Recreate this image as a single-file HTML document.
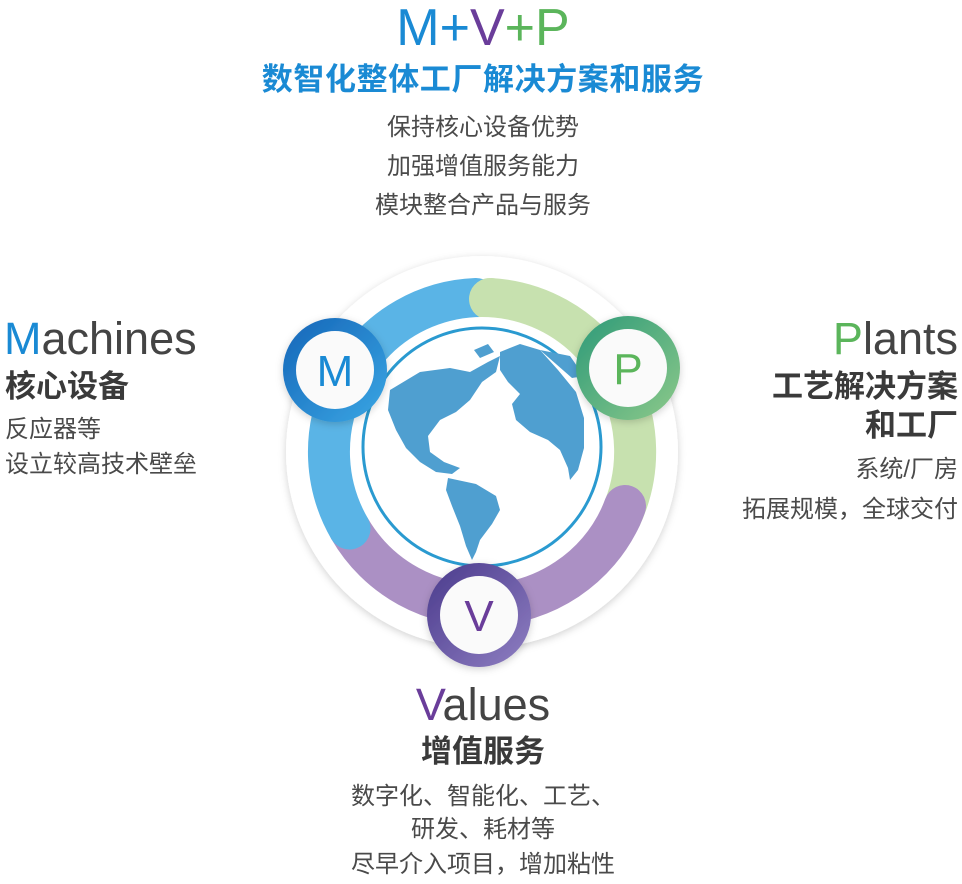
<!DOCTYPE html>
<html><head><meta charset="utf-8"><style>
body{margin:0;width:962px;height:884px;background:#fff;position:relative;overflow:hidden;font-family:"Liberation Sans","Noto Sans CJK SC",sans-serif;color:#444}
.t{position:absolute;white-space:nowrap;line-height:1}
.c{left:0;width:966px;text-align:center}
.r{right:4px;text-align:right}
.g{font-size:24px;color:#4a4a4a}
.b{font-weight:bold;color:#3a3a3a}
.en{font-size:45px;color:#444}
</style></head><body>
<div class="t c" style="top:2px;font-size:52px"><span style="color:#1a8ad4">M</span><span style="color:#1a8ad4">+</span><span style="color:#6a3d9a">V</span><span style="color:#5bb55b">+P</span></div>
<div class="t c" style="top:64px;font-size:31px;letter-spacing:0.6px;font-weight:bold;color:#1a8ad4">数智化整体工厂解决方案和服务</div>
<div class="t c g" style="top:116px">保持核心设备优势</div>
<div class="t c g" style="top:155px">加强增值服务能力</div>
<div class="t c g" style="top:194px">模块整合产品与服务</div>

<div class="t en" style="left:4px;top:316px"><span style="color:#1a8ad4">M</span>achines</div>
<div class="t b" style="left:5px;top:371px;font-size:31px">核心设备</div>
<div class="t g" style="left:5px;top:418px">反应器等</div>
<div class="t g" style="left:5px;top:453px">设立较高技术壁垒</div>

<div class="t en r" style="top:316px"><span style="color:#5bb55b">P</span>lants</div>
<div class="t b r" style="top:371px;font-size:31px">工艺解决方案</div>
<div class="t b r" style="top:410px;font-size:31px">和工厂</div>
<div class="t g r" style="top:458px">系统/厂房</div>
<div class="t g r" style="top:498px">拓展规模，全球交付</div>

<div class="t c en" style="top:682px"><span style="color:#6a3d9a">V</span>alues</div>
<div class="t c b" style="top:736px;font-size:31px">增值服务</div>
<div class="t c g" style="top:785px">数字化、智能化、工艺、</div>
<div class="t c g" style="top:818px">研发、耗材等</div>
<div class="t c g" style="top:853px">尽早介入项目，增加粘性</div>

<svg style="position:absolute;left:0;top:0" width="962" height="884">
<defs>
<filter id="sh" x="-20%" y="-20%" width="140%" height="140%"><feDropShadow dx="0" dy="2" stdDeviation="4" flood-color="#000" flood-opacity="0.18"/></filter>
<linearGradient id="gm" x1="0" y1="0" x2="1" y2="1"><stop offset="0" stop-color="#1565b8"/><stop offset="1" stop-color="#3aa7e4"/></linearGradient>
<linearGradient id="gp" x1="0" y1="0" x2="1" y2="1"><stop offset="0" stop-color="#2e9a78"/><stop offset="1" stop-color="#8cc98a"/></linearGradient>
<linearGradient id="gv" x1="0" y1="0" x2="1" y2="1"><stop offset="0" stop-color="#4a3a8c"/><stop offset="1" stop-color="#8f7fc2"/></linearGradient>
</defs>
<circle cx="482" cy="452" r="196" fill="#fff" filter="url(#sh)"/>
<path d="M 620.7 516.7 A 153 153 0 0 1 349.5 528.5" fill="none" stroke="#ab90c4" stroke-width="42" stroke-linecap="round"/>
<path d="M 349.5 528.5 A 153 153 0 0 1 476 299" fill="none" stroke="#5ab4e6" stroke-width="42" stroke-linecap="round"/>
<path d="M 490 299 A 153 153 0 0 1 620.7 516.7" fill="none" stroke="#c7e1af" stroke-width="42" stroke-linecap="butt"/>
<path d="M 490 299 A 153 153 0 0 1 492 299.3" fill="none" stroke="#c7e1af" stroke-width="42" stroke-linecap="round"/>
<path d="M 625 506 A 153 153 0 0 1 620.7 516.7" fill="none" stroke="#ab90c4" stroke-width="42" stroke-linecap="round"/>
<circle cx="482" cy="447" r="130" fill="#fff"/>
<circle cx="482" cy="447" r="119" fill="#fff" stroke="#2a9ad0" stroke-width="3"/>
<g fill="#4f9fd0">
<path d="M390 390 L420 372 L450 368 L470 372 L488 362 L500 356 L496 372 L482 382 L470 400 L456 412 L440 420 L428 436 L430 452 L444 462 L460 468 L452 474 L436 472 L420 462 L406 448 L396 430 L388 410 Z"/>
<path d="M448 478 L476 484 L496 496 L500 510 L492 524 L480 540 L476 552 L472 560 L466 546 L460 526 L452 506 L446 490 Z"/>
<path d="M500 352 L520 344 L540 350 L558 370 L576 392 L584 418 L584 448 L578 470 L570 480 L568 468 L560 450 L548 440 L530 432 L516 420 L512 404 L520 394 L508 382 L500 370 Z"/>
<path d="M540 350 L570 356 L584 376 L572 378 L556 364 Z"/>
<path d="M474 350 L488 344 L494 352 L480 358 Z"/>
</g>
<circle cx="335" cy="370" r="52" fill="url(#gm)" filter="url(#sh)"/>
<circle cx="335" cy="370" r="39" fill="#fafafa"/>
<text x="335" y="386" text-anchor="middle" font-family="Liberation Sans" font-size="44" fill="#1a8ad4">M</text>
<circle cx="628" cy="368" r="52" fill="url(#gp)" filter="url(#sh)"/>
<circle cx="628" cy="368" r="39" fill="#fafafa"/>
<text x="628" y="384" text-anchor="middle" font-family="Liberation Sans" font-size="44" fill="#5bb55b">P</text>
<circle cx="479" cy="615" r="52" fill="url(#gv)" filter="url(#sh)"/>
<circle cx="479" cy="615" r="39" fill="#fafafa"/>
<text x="479" y="631" text-anchor="middle" font-family="Liberation Sans" font-size="44" fill="#6a3d9a">V</text>
</svg>
</body></html>
